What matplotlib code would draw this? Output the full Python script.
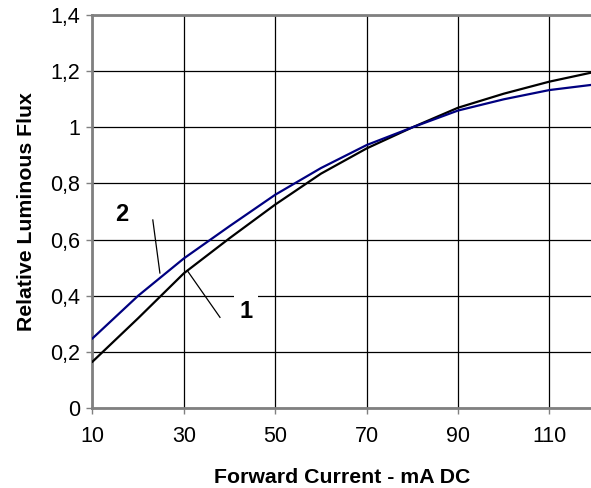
import numpy as np
import matplotlib.pyplot as plt

plt.rcParams['font.family'] = ['Liberation Sans', 'DejaVu Sans']

# forward current (mA DC)
current = [10, 20, 30, 40, 50, 60, 70, 80, 90, 100, 110, 120]
# relative luminous flux, curve 1 (black) and curve 2 (blue)
flux_1 = [0.165, 0.32, 0.48, 0.605, 0.725, 0.835, 0.925, 1.0, 1.07, 1.12, 1.163, 1.198]
flux_2 = [0.248, 0.40, 0.533, 0.648, 0.76, 0.855, 0.937, 1.0, 1.06, 1.10, 1.133, 1.153]

xticks = [10, 30, 50, 70, 90, 110]
yticks = [0, 0.2, 0.4, 0.6, 0.8, 1.0, 1.2, 1.4]
ytick_labels = ['0', '0,2', '0,4', '0,6', '0,8', '1', '1,2', '1,4']

fig = plt.figure(figsize=(5.91, 4.88), dpi=100)
ax = fig.add_axes([0.1565, 0.164, 0.8435, 0.805])

ax.plot(current, flux_1, color='black', lw=1.6, zorder=3)
ax.plot(current, flux_2, color='#000080', lw=1.6, zorder=3)

ax.set_xlim(10, 119.1)
ax.set_ylim(0, 1.4)
ax.set_xticks(xticks)
ax.set_yticks(yticks)
ax.set_yticklabels(ytick_labels)
ax.tick_params(labelsize=15.5, length=4, width=1, color='#808080', direction='out')
ax.tick_params(axis='x', pad=9)
ax.tick_params(axis='y', pad=5)
ax.grid(True, color='black', lw=0.9, zorder=1)

for s in ['left', 'bottom', 'top']:
    ax.spines[s].set_color('#808080')
    ax.spines[s].set_linewidth(2)
ax.spines['right'].set_visible(False)

# leader lines for curve labels
ax.plot([23.2, 24.75], [0.67, 0.481], color='black', lw=0.9, zorder=4)
ax.plot([30.9, 37.9], [0.486, 0.323], color='black', lw=0.9, zorder=4)
ax.text(16.4, 0.688, '2', fontsize=17, fontweight='bold', ha='center', va='center',
        bbox=dict(facecolor='white', edgecolor='none', pad=2), zorder=5)
ax.text(43.6, 0.343, '1', fontsize=17, fontweight='bold', ha='center', va='center',
        bbox=dict(facecolor='white', edgecolor='none', pad=4), zorder=5)

ax.set_xlabel('Forward Current - mA DC', fontsize=15.3, fontweight='bold', labelpad=15)
ax.set_ylabel('Relative Luminous Flux', fontsize=15.3, fontweight='bold', labelpad=10)

fig.savefig('out.png', dpi=100)
